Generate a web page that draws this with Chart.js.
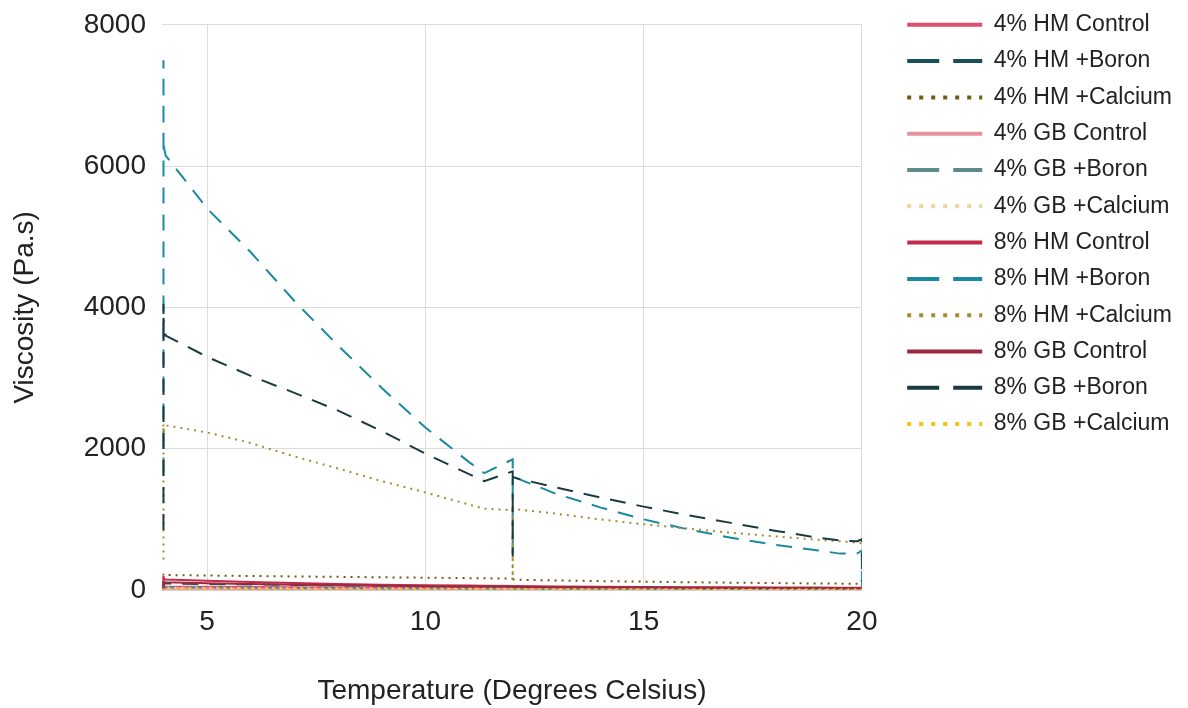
<!DOCTYPE html>
<html>
<head>
<meta charset="utf-8">
<title>Viscosity vs Temperature</title>
<script src="https://cdn.jsdelivr.net/npm/chart.js@4/dist/chart.umd.min.js"></script>
<style>
  html, body { margin: 0; padding: 0; background: #fff; }
  canvas { display: block; }
</style>
</head>
<body>
<canvas id="myChart" width="1188" height="708"></canvas>
<script>
// temperature of each reading (several readings held at 4, 12 and 20 degrees)
const temps = [4, 4, 4, 4, 4, 4, 4.05, 5, 6, 7, 8, 9, 10, 11, 11.35,
    12, 12, 12, 12, 12.1, 13, 14, 15, 16, 17, 18, 19, 19.5, 19.9, 20, 20, 20];

const seriesNames = ['4% HM Control', '4% HM +Boron', '4% HM +Calcium',
    '4% GB Control', '4% GB +Boron', '4% GB +Calcium',
    '8% HM Control', '8% HM +Boron', '8% HM +Calcium',
    '8% GB Control', '8% GB +Boron', '8% GB +Calcium'];

// viscosity (Pa.s)
const hm4Control = [5, 30, 60, 55, 58, 52, 50, 46, 42, 38, 35, 32, 29, 27, 26, 25, 24, 15, 24, 24, 22, 20, 19, 18, 17, 16, 15, 14, 14, 14, 10, 14];
const hm4Boron = [20, 60, 110, 100, 105, 95, 92, 85, 78, 72, 66, 61, 56, 52, 50, 48, 46, 30, 46, 45, 41, 38, 35, 32, 30, 28, 26, 25, 25, 25, 15, 24];
const hm4Calcium = [60, 150, 240, 220, 230, 215, 212, 205, 198, 192, 186, 180, 174, 168, 166, 160, 113, 140, 150, 145, 135, 126, 118, 110, 104, 98, 92, 90, 88, 86, 40, 85];
const gb4Control = [3, 10, 25, 22, 24, 20, 19, 17, 15, 14, 13, 12, 11, 10, 10, 10, 9, 6, 9, 9, 8, 8, 7, 7, 7, 6, 6, 6, 6, 6, 4, 6];
const gb4Boron = [8, 25, 45, 42, 44, 40, 38, 35, 32, 30, 28, 26, 24, 22, 21, 21, 20, 14, 20, 20, 18, 17, 16, 15, 14, 13, 12, 12, 12, 12, 8, 12];
const gb4Calcium = [6, 20, 40, 36, 38, 34, 33, 31, 29, 27, 25, 24, 23, 22, 21, 21, 20, 15, 20, 20, 19, 18, 17, 16, 15, 14, 14, 13, 13, 13, 10, 13];
const hm8Control = [10, 80, 200, 170, 180, 160, 150, 130, 112, 98, 86, 76, 68, 62, 60, 58, 55, 40, 56, 55, 50, 46, 43, 40, 38, 36, 34, 33, 33, 33, 25, 32];
const hm8Boron = [1650, 3200, 5000, 7500, 6200, 6300, 6150, 5400, 4780, 4090, 3460, 2860, 2300, 1810, 1655, 1850, 1750, 470, 1620, 1580, 1360, 1170, 1000, 860, 740, 640, 560, 515, 520, 560, 300, 60];
const hm8Calcium = [430, 900, 1500, 2350, 2120, 2250, 2330, 2230, 2080, 1890, 1720, 1540, 1380, 1210, 1150, 1130, 1100, 140, 1150, 1140, 1080, 1000, 930, 870, 810, 760, 710, 690, 670, 660, 630, 650];
const gb8Control = [10, 60, 130, 120, 125, 115, 110, 95, 84, 75, 67, 60, 54, 50, 48, 46, 44, 30, 45, 44, 40, 37, 34, 32, 30, 28, 27, 26, 26, 26, 20, 25];
const gb8Boron = [850, 1700, 2700, 4050, 3750, 3850, 3600, 3300, 3030, 2790, 2540, 2250, 1930, 1640, 1540, 1680, 1620, 470, 1600, 1580, 1450, 1310, 1180, 1060, 950, 840, 740, 700, 690, 720, 400, 120];
const gb8Calcium = [5, 12, 22, 20, 21, 19, 18, 17, 16, 16, 15, 15, 14, 14, 14, 14, 14, 10, 14, 14, 13, 13, 13, 12, 12, 12, 12, 12, 12, 12, 9, 12];

const allValues = [hm4Control, hm4Boron, hm4Calcium, gb4Control, gb4Boron, gb4Calcium,
    hm8Control, hm8Boron, hm8Calcium, gb8Control, gb8Boron, gb8Calcium];

const colors = ['#e04c6c', '#16505a', '#6e5a14', '#e8909e', '#5e8a8e', '#ecd49a',
    '#c42a4a', '#1a8aa0', '#a88a30', '#9a2a40', '#1a3c40', '#fcc010'];

// line kind per position in each group of three: control, boron, calcium
const plotDash = [[], [16, 11], [2, 5]];
const legendDash = [[], [32, 14], [4, 8]];

const datasets = seriesNames.map(function (name, i) {
    return {
        label: name,
        data: temps.map(function (t, j) { return {x: t, y: allValues[i][j]}; }),
        borderColor: colors[i],
        backgroundColor: colors[i],
        borderWidth: 2,
        borderDash: plotDash[i % 3],
        pointRadius: 0,
        tension: 0,
        fill: false,
        order: seriesNames.length - i   // later series drawn on top
    };
});

Chart.defaults.font.family = "'Liberation Sans', Arial, sans-serif";
Chart.defaults.color = '#222';

const ctx = document.getElementById('myChart').getContext('2d');
const myChart = new Chart(ctx, {
    type: 'line',
    data: { datasets: datasets },
    options: {
        responsive: false,
        animation: false,
        layout: { padding: { top: 0, left: 0, bottom: 0, right: 6 } },
        plugins: {
            tooltip: { enabled: false },
            legend: {
                position: 'right',
                align: 'start',
                maxWidth: 400,
                labels: {
                    usePointStyle: true,
                    pointStyleWidth: 75,
                    boxHeight: 23,
                    padding: 13.3,
                    font: { size: 23 },
                    color: '#222',
                    sort: function (a, b) { return a.datasetIndex - b.datasetIndex; },
                    generateLabels: function (chart) {
                        return Chart.defaults.plugins.legend.labels.generateLabels(chart).map(function (item) {
                            item.pointStyle = 'line';
                            item.lineWidth = 4;
                            item.lineDash = legendDash[item.datasetIndex % 3];
                            return item;
                        });
                    }
                }
            }
        },
        scales: {
            x: {
                type: 'linear',
                min: 3.966,
                max: 20,
                grid: { color: '#dcdcdc', drawTicks: false },
                border: { display: true, color: '#cfcfcf' },
                ticks: { stepSize: 5, includeBounds: false, padding: 15, font: { size: 28 }, color: '#222' },
                title: {
                    display: true,
                    text: 'Temperature (Degrees Celsius)',
                    font: { size: 28 },
                    color: '#222',
                    padding: { top: 30, bottom: 0 }
                },
                afterFit: function (scale) { scale.height = 118; }
            },
            y: {
                min: 0,
                max: 8000,
                grid: { color: '#dcdcdc', drawTicks: true, tickLength: 8, tickColor: 'rgba(0,0,0,0)' },
                border: { display: false },
                ticks: {
                    stepSize: 2000,
                    padding: 8,
                    font: { size: 28 },
                    color: '#222',
                    callback: function (value) { return String(value); }
                },
                title: {
                    display: true,
                    text: 'Viscosity (Pa.s)',
                    font: { size: 28 },
                    color: '#222',
                    padding: { top: 8, bottom: 0 }
                },
                afterFit: function (scale) { scale.width = 162; }
            },
            // empty spacer scale between plot and legend
            rightSpace: {
                type: 'linear',
                position: 'right',
                grid: { display: false },
                border: { display: false },
                ticks: { display: false },
                afterFit: function (scale) { scale.width = 32; }
            }
        }
    }
});
</script>
</body>
</html>
